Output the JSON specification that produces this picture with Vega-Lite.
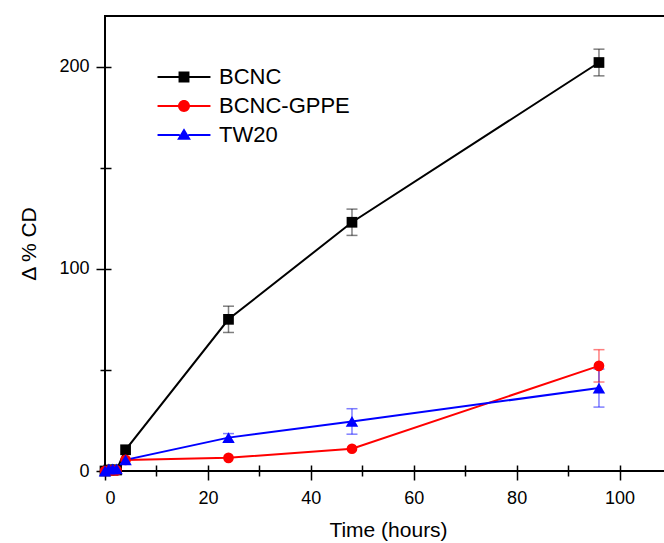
{
  "$schema": "https://vega.github.io/schema/vega-lite/v6.json",
  "autosize": "none",
  "padding": {"left": 105, "top": 16, "right": 0, "bottom": 72},
  "width": 566,
  "height": 455,
  "background": "white",
  "config": {
    "font": "Liberation Sans",
    "view": {"stroke": "black", "strokeWidth": 2},
    "axis": {"grid": false, "domain": false, "offset": -6, "tickColor": "black", "tickWidth": 1.5, "labelColor": "black", "titleColor": "black", "labelFontSize": 18, "titleFontSize": 21, "titleFontWeight": "normal"}
  },
  "data": {"values": [
    {"series": "BCNC", "t": 0, "v": 0},
    {"series": "BCNC", "t": 0.75, "v": 0.5},
    {"series": "BCNC", "t": 1.5, "v": 0.5},
    {"series": "BCNC", "t": 2.25, "v": 0.5},
    {"series": "BCNC", "t": 4, "v": 10.5},
    {"series": "BCNC", "t": 24, "v": 75, "lo": 68.5, "hi": 81.5},
    {"series": "BCNC", "t": 48, "v": 123, "lo": 116.5, "hi": 129.5},
    {"series": "BCNC", "t": 96, "v": 202, "lo": 195.4, "hi": 208.6},
    {"series": "BCNC-GPPE", "t": 0, "v": 0},
    {"series": "BCNC-GPPE", "t": 0.75, "v": 0.3},
    {"series": "BCNC-GPPE", "t": 1.5, "v": 0.3},
    {"series": "BCNC-GPPE", "t": 2.25, "v": 0.3},
    {"series": "BCNC-GPPE", "t": 4, "v": 5.5},
    {"series": "BCNC-GPPE", "t": 24, "v": 6.5},
    {"series": "BCNC-GPPE", "t": 48, "v": 11},
    {"series": "BCNC-GPPE", "t": 96, "v": 52, "lo": 44, "hi": 60},
    {"series": "TW20", "t": 0, "v": 0},
    {"series": "TW20", "t": 0.75, "v": 1},
    {"series": "TW20", "t": 1.5, "v": 1},
    {"series": "TW20", "t": 2.25, "v": 1},
    {"series": "TW20", "t": 4, "v": 5.5},
    {"series": "TW20", "t": 24, "v": 16.5, "lo": 14.5, "hi": 18.5},
    {"series": "TW20", "t": 48, "v": 24.5, "lo": 18.2, "hi": 30.8},
    {"series": "TW20", "t": 96, "v": 41, "lo": 31.6, "hi": 50.4}
  ]},
  "encoding": {
    "x": {"field": "t", "type": "quantitative", "title": "Time (hours)",
      "scale": {"domain": [0, 110], "nice": false, "zero": false},
      "axis": {"values": [0,10,20,30,40,50,60,70,80,90,100], "labelExpr": "datum.value % 20 === 0 ? datum.label : ''",
        "tickSize": {"expr": "datum.value % 20 === 0 ? 15 : 11"}, "labelPadding": 9, "titlePadding": 12}},
    "color": {"field": "series", "type": "nominal",
      "scale": {"domain": ["BCNC", "BCNC-GPPE", "TW20"], "range": ["#000000", "#ff0000", "#0000ff"]},
      "legend": {"title": null, "orient": "none", "legendX": 68, "legendY": 50, "padding": 0,
        "symbolSize": 441, "symbolStrokeWidth": 0, "labelFontSize": 22, "labelOffset": 24, "rowPadding": 7, "labelColor": "black",
        "encode": {"symbols": {"update": {
          "shape": {"signal": "datum.value === 'BCNC' ? 'M-2.52,-0.095L-0.4,-0.095L-0.4,0.095L-2.52,0.095Z M0.4,-0.095L2.52,-0.095L2.52,0.095L0.4,0.095Z M-0.52,-0.52L0.52,-0.52L0.52,0.52L-0.52,0.52Z' : datum.value === 'BCNC-GPPE' ? 'M-2.52,-0.095L-0.4,-0.095L-0.4,0.095L-2.52,0.095Z M0.4,-0.095L2.52,-0.095L2.52,0.095L0.4,0.095Z M-0.57,0A0.57,0.57 0 1,1 0.57,0A0.57,0.57 0 1,1 -0.57,0Z' : 'M-2.52,-0.095L-0.4,-0.095L-0.4,0.095L-2.52,0.095Z M0.4,-0.095L2.52,-0.095L2.52,0.095L0.4,0.095Z M0,-0.64L0.66,0.46L-0.66,0.46Z'"},
          "fill": {"scale": "color", "field": "value"},
          "stroke": {"value": "transparent"},
          "strokeWidth": {"value": 0},
          "opacity": {"value": 1}
        }}}}}
  },
  "layer": [
    {
      "transform": [{"filter": "isValid(datum.lo)"}],
      "mark": {"type": "rule", "strokeWidth": 1.5, "opacity": 0.5},
      "encoding": {
        "y": {"field": "lo", "type": "quantitative", "scale": {"domain": [0, 225], "nice": false}},
        "y2": {"field": "hi"}
      }
    },
    {
      "transform": [{"filter": "isValid(datum.lo)"}],
      "mark": {"type": "tick", "orient": "horizontal", "size": 11, "thickness": 1.5, "opacity": 0.5},
      "encoding": {
        "y": {"field": "lo", "type": "quantitative"}
      }
    },
    {
      "transform": [{"filter": "isValid(datum.hi)"}],
      "mark": {"type": "tick", "orient": "horizontal", "size": 11, "thickness": 1.5, "opacity": 0.5},
      "encoding": {
        "y": {"field": "hi", "type": "quantitative"}
      }
    },
    {
      "mark": {"type": "line", "strokeWidth": 2},
      "encoding": {
        "y": {"field": "v", "type": "quantitative", "title": "Δ % CD",
          "axis": {"values": [0, 50, 100, 150, 200], "labelExpr": "datum.value % 100 === 0 ? datum.label : ''",
            "tickSize": {"expr": "datum.value % 100 === 0 ? 15 : 11"}, "labelPadding": 7, "titlePadding": 19}}
      }
    },
    {
      "transform": [{"filter": "datum.series === 'BCNC'"}],
      "mark": {"type": "point", "shape": "square", "filled": true, "opacity": 1, "size": 115},
      "encoding": {"y": {"field": "v", "type": "quantitative"}}
    },
    {
      "transform": [{"filter": "datum.series === 'BCNC-GPPE'"}],
      "mark": {"type": "point", "shape": "circle", "filled": true, "opacity": 1, "size": 115},
      "encoding": {"y": {"field": "v", "type": "quantitative"}}
    },
    {
      "transform": [{"filter": "datum.series === 'TW20'"}],
      "mark": {"type": "point", "shape": "triangle-up", "filled": true, "opacity": 1, "size": 155},
      "encoding": {"y": {"field": "v", "type": "quantitative"}}
    }
  ]
}
